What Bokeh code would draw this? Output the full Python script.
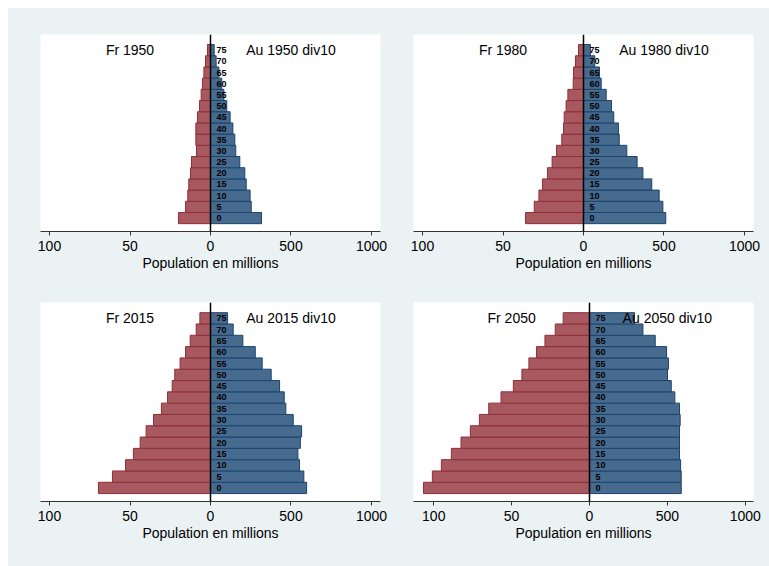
from bokeh.plotting import figure
from bokeh.layouts import row, column
from bokeh.models import FixedTicker, Span
from bokeh.core.properties import value
from bokeh.embed import file_html
from bokeh.resources import INLINE

ages = [0, 5, 10, 15, 20, 25, 30, 35, 40, 45, 50, 55, 60, 65, 70, 75]
age_labels = [str(a) for a in ages]

fr_1950 = [19.9, 15.5, 14.1, 13.5, 12.4, 11.8, 8.7, 9.1, 9.1, 8.1, 6.8, 5.8, 5.0, 4.1, 3.1, 1.9]
au_1950 = [317, 253, 246, 222, 213, 182, 157, 151, 139, 122, 101, 83, 70, 52, 35, 23]

fr_1980 = [36.0, 30.6, 27.7, 25.5, 22.4, 19.5, 16.8, 13.5, 12.4, 12.0, 10.8, 9.7, 6.4, 6.2, 5.0, 3.1]
au_1980 = [511, 493, 470, 424, 369, 333, 269, 222, 217, 188, 174, 141, 110, 99, 70, 43]

fr_2015 = [69.6, 60.9, 52.8, 47.9, 43.7, 40.0, 35.4, 30.5, 26.7, 23.8, 22.2, 18.9, 15.5, 12.6, 8.9, 6.6]
au_2015 = [597, 580, 553, 543, 558, 566, 514, 468, 458, 429, 377, 321, 278, 201, 141, 106]

fr_2050 = [106.6, 100.9, 95.1, 88.7, 82.5, 76.5, 70.7, 64.7, 56.8, 48.9, 43.4, 38.9, 34.0, 28.6, 22.0, 16.9]
au_2050 = [589, 589, 585, 578, 578, 578, 582, 578, 548, 525, 501, 507, 495, 422, 343, 289]

years = ["1950", "1980", "2015", "2050"]
tick_pos = [-1000, -500, 0, 500, 1000]
tick_text = ["100", "50", "0", "500", "1000"]

BG = "#eaf2f3"
FONT = "Liberation Sans"


def panel(year, fr, au, xr, width, height, bl, br, bt, bb):
    p = figure(width=width, height=height, x_range=xr, y_range=(-6, 82),
               output_backend="svg", toolbar_location=None,
               y_axis_location=None, min_border_left=bl, min_border_right=br,
               min_border_top=bt, min_border_bottom=bb, sizing_mode="fixed")
    p.background_fill_color = "white"
    p.border_fill_color = BG
    p.outline_line_color = None
    p.xgrid.visible = False
    p.ygrid.visible = False

    left = [-10 * v for v in fr]
    p.hbar(y=ages, left=left, right=0, height=5,
           fill_color="#a8585f", line_color="#8e2f38", line_width=1)
    p.hbar(y=ages, left=0, right=au, height=5,
           fill_color="#476a8f", line_color="#1c446c", line_width=1)

    p.add_layout(Span(location=0, dimension="height", line_color="black",
                      line_width=1.5))

    p.text(x=[0] * len(ages), y=ages, text=age_labels, x_offset=6,
           text_align="left", text_baseline="middle", text_font_size="9px",
           text_font_style="bold", text_color="black", text_font=value(FONT))

    p.text(x=[-500], y=[75], text=["Fr " + year], text_align="center",
           text_baseline="middle", text_font_size="14px",
           text_color="black", text_font=value(FONT))
    p.text(x=[500], y=[75], text=["Au " + year + " div10"], text_align="center",
           text_baseline="middle", text_font_size="14px",
           text_color="black", text_font=value(FONT))

    ax = p.xaxis[0]
    ax.ticker = FixedTicker(ticks=tick_pos)
    ax.major_label_overrides = {t: s for t, s in zip(tick_pos, tick_text)}
    ax.minor_tick_line_color = None
    ax.major_tick_out = 4
    ax.major_tick_in = 0
    ax.major_label_standoff = 5
    ax.axis_label = "Population en millions"
    ax.axis_label_standoff = 1
    ax.axis_label_text_font_style = "normal"
    ax.axis_label_text_font_size = "14px"
    ax.axis_label_text_font = FONT
    ax.axis_label_text_color = "black"
    ax.major_label_text_font_size = "14px"
    ax.major_label_text_font = FONT
    ax.major_label_text_color = "black"
    ax.axis_line_color = "#333333"
    ax.major_tick_line_color = "#333333"
    return p


p1 = panel(years[0], fr_1950, au_1950, (-1056, 1056), 388, 270, 32, 16, 26, 47)
p2 = panel(years[1], fr_1980, au_1980, (-1056, 1056), 373, 270, 17, 16, 26, 47)
p3 = panel(years[2], fr_2015, au_2015, (-1056, 1056), 388, 288, 32, 16, 24, 65)
p4 = panel(years[3], fr_2050, au_2050, (-1130, 1053), 373, 288, 17, 16, 24, 65)

bg_style = {"background-color": BG}
r1 = row(p1, p2, spacing=0, sizing_mode="fixed", styles=bg_style)
r2 = row(p3, p4, spacing=0, sizing_mode="fixed", styles=bg_style)
layout = column(r1, r2, spacing=0, sizing_mode="fixed", margin=(8, 0, 0, 8),
                styles=bg_style)

open("out.html", "w").write(file_html(layout, INLINE))
